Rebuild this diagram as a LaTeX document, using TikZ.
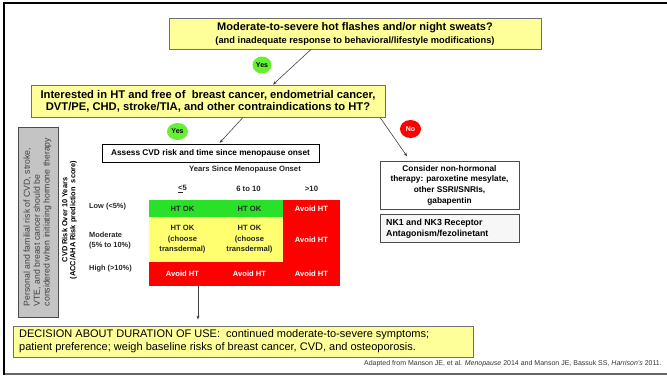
\documentclass[tikz,border=0pt]{standalone}
\usepackage{fontspec}
\setmainfont{Liberation Sans}
\usetikzlibrary{arrows.meta,shapes.geometric}
\definecolor{boxyel}{HTML}{FFFF99}
\definecolor{cellyel}{HTML}{FFFF70}
\definecolor{cellgrn}{RGB}{40,225,40}
\definecolor{yesgrn}{RGB}{102,240,51}
\definecolor{cellred}{HTML}{FF0000}
\definecolor{edgegray}{HTML}{707070}
\definecolor{sidegray}{HTML}{C4C4C4}
\tikzset{
  ybox/.style={draw=edgegray,line width=0.9,fill=boxyel,inner sep=0,align=center},
  badge/.style={ellipse,inner sep=0,font=\fontsize{7}{7}\selectfont\bfseries},
  cell/.style={rectangle,inner sep=0,align=center,font=\fontsize{7.6}{10.5}\selectfont\bfseries},
  arr/.style={draw=black!75,line width=0.6,-{Stealth[length=4,width=3]}},
  rowlab/.style={anchor=west,align=left,inner sep=0,font=\fontsize{7.4}{9.5}\selectfont\bfseries,text=black!85},
  hdr/.style={inner sep=0,font=\fontsize{7.7}{8}\selectfont\bfseries,text=black!85},
}
\begin{document}
\begin{tikzpicture}[x=1pt,y=-1pt]
\useasboundingbox (0,0) rectangle (667,376);
% frame
\draw[black!60,line width=1.2] (4,374) -- (667,374);
\draw[black,line width=2] (4,375) -- (4,3) -- (667,3);

% top question
\node[ybox,minimum width=372,minimum height=31] (top) at (355,33.5)
  {{\fontsize{11}{13.5}\selectfont\bfseries Moderate-to-severe hot flashes and/or night sweats?}\\[1pt]
   {\fontsize{9.3}{10}\selectfont\bfseries (and inadequate response to behavioral/lifestyle modifications)}};
\node[badge,fill=yesgrn,minimum width=19,minimum height=17] (yes1) at (262,65) {Yes};

% second question
\node[ybox,minimum width=354,minimum height=32] (q2) at (208,101)
  {\fontsize{11.2}{13}\selectfont\bfseries Interested in HT and free of\ \ breast cancer, endometrial cancer,\\
   \fontsize{11.2}{13}\selectfont\bfseries DVT/PE, CHD, stroke/TIA, and other contraindications to HT?};
\node[badge,fill=yesgrn,minimum width=21,minimum height=17] (yes2) at (177.5,131.5) {Yes};
\node[badge,fill=cellred,text=white,minimum width=21,minimum height=18] (no) at (410.5,129) {No};

% assess box
\node[draw=black,line width=0.9,fill=white,minimum width=217,minimum height=18,inner sep=0,
  font=\fontsize{8.3}{9}\selectfont\bfseries] (assess) at (210.5,153)
  {Assess CVD risk and time since menopause onset};

% non-hormonal
\node[draw=black!70,line width=0.9,fill=white,minimum width=139,minimum height=48,inner sep=0,align=center,
  font=\fontsize{8.3}{10.7}\selectfont\bfseries] (consider) at (449.5,185)
  {Consider non-hormonal\\therapy: paroxetine mesylate,\\other SSRI/SNRIs,\\gabapentin};
\node[draw=black!70,line width=0.9,fill=black!3,minimum width=139,minimum height=28,inner sep=0] (nk) at (449.5,228) {};
\node[anchor=west,align=left,inner sep=0,font=\fontsize{8.8}{11}\selectfont\bfseries] (nktext) at (386,228.5)
  {NK1 and NK3 Receptor\\Antagonism/fezolinetant};

% grid header
\node[hdr] (yrs) at (245,170) {Years Since Menopause Onset};
\node[hdr] (h1) at (182.5,189) {\underline{<}5};
\node[hdr] (h2) at (248.5,189) {6 to 10};
\node[hdr] (h3) at (311.5,189) {>10};

% grid cells
\node[cell,fill=cellgrn,minimum width=67,minimum height=17,text=black!85] (c11) at (182.5,208.5) {HT OK};
\node[cell,fill=cellgrn,minimum width=67,minimum height=17,text=black!85] (c12) at (249.5,208.5) {HT OK};
\node[cell,fill=cellred,minimum width=57,minimum height=17,text=white] (c13) at (311.5,208.5) {Avoid HT};
\node[cell,fill=cellyel,minimum width=67,minimum height=45,text=black!85] (c21) at (182.5,239.5) {HT OK\\(choose\\transdermal)};
\node[cell,fill=cellyel,minimum width=67,minimum height=45,text=black!85] (c22) at (249.5,239.5) {HT OK\\(choose\\transdermal)};
\node[cell,fill=cellred,minimum width=57,minimum height=45,text=white] (c23) at (311.5,239.5) {Avoid HT};
\node[cell,fill=cellred,minimum width=67,minimum height=24,text=white] (c31) at (182.5,274) {Avoid HT};
\node[cell,fill=cellred,minimum width=67,minimum height=24,text=white] (c32) at (249.5,274) {Avoid HT};
\node[cell,fill=cellred,minimum width=57,minimum height=24,text=white] (c33) at (311.5,274) {Avoid HT};

% row labels
\node[rowlab] (r1) at (89,207) {Low (<5\%)};
\node[rowlab] (r2) at (89,240.5) {Moderate\\(5\% to 10\%)};
\node[rowlab] (r3) at (89,269) {High (>10\%)};

% rotated axis label
\node[rotate=90,align=center,inner sep=0,font=\fontsize{7.4}{8}\selectfont\bfseries] (cvdlab) at (69.5,220)
  {CVD Risk Over 10 Years\\(ACC/AHA Risk prediction\ \ score)};

% gray side box
\node[draw=black!70,line width=0.8,fill=sidegray,minimum width=40,minimum height=190,inner sep=0] (side) at (38,222) {};
\node[rotate=90,align=left,inner sep=0,text=black!75,font=\fontsize{8.7}{9.8}\selectfont] (sidetext) at (37.5,222)
  {Personal and familial risk of CVD, stroke,\\VTE, and breast cancer should be\\considered when initiating hormone therapy};

% decision box
\node[ybox,minimum width=460,minimum height=31] (dec) at (243,341.5) {};
\node[anchor=west,align=left,inner sep=0,font=\fontsize{11}{13}\selectfont] (dectext) at (19,341.5)
  {DECISION ABOUT DURATION OF USE:\ \ continued moderate-to-severe symptoms;\\
   patient preference;\ weigh baseline risks of breast cancer, CVD, and osteoporosis.};

% citation
\node[anchor=east,inner sep=0,font=\fontsize{7}{8}\selectfont,text=black!80] (cite) at (662,364)
  {Adapted from Manson JE, et al. \textit{Menopause} 2014 and Manson JE, Bassuk SS, \textit{Harrison's} 2011.};

% arrows
\draw[arr] ([xshift=-44]top.south) -- ([xshift=65]q2.north);
\draw[arr,shorten >=1] ([xshift=35]q2.south) -- ([xshift=8.5]assess.north);
\draw[arr,shorten >=5] ([xshift=172]q2.south) -- ([xshift=-39.5]consider.north);
\draw[arr,shorten >=6] ([xshift=15.5]c31.south) -- ([xshift=15.5]c31.south |- dec.north);
\end{tikzpicture}
\end{document}
